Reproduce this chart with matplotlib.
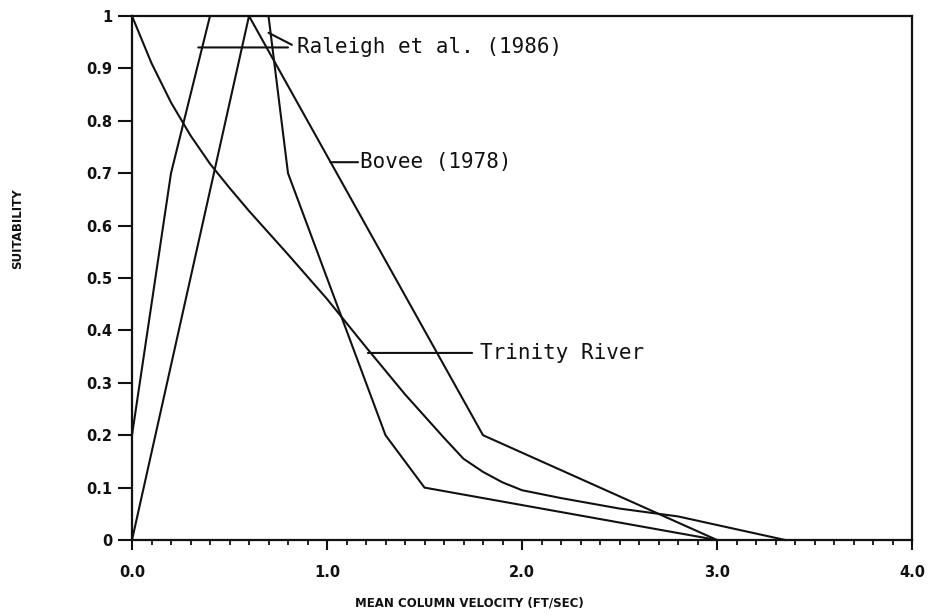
import numpy as np
import matplotlib.pyplot as plt
from matplotlib.ticker import FixedLocator, FixedFormatter, MultipleLocator

# Velocity suitability curves (mean column velocity, ft/sec)
bovee_v = [0.0, 0.6, 1.8, 3.0]
bovee_s = [0.0, 1.0, 0.2, 0.0]

raleigh_v = [0.0, 0.2, 0.4, 0.7, 0.8, 1.3, 1.5, 3.0]
raleigh_s = [0.2, 0.7, 1.0, 1.0, 0.7, 0.2, 0.1, 0.0]

trinity_v = [0.0, 0.1, 0.2, 0.3, 0.4, 0.5, 0.6, 0.8, 1.0, 1.2, 1.4, 1.6, 1.7,
             1.8, 1.9, 2.0, 2.2, 2.5, 2.8, 3.35]
trinity_s = [1.0, 0.91, 0.835, 0.772, 0.718, 0.672, 0.628, 0.545, 0.46, 0.368,
             0.278, 0.195, 0.155, 0.13, 0.11, 0.095, 0.08, 0.06, 0.045, 0.0]

x_ticks = [0.0, 1.0, 2.0, 3.0, 4.0]
x_tick_labels = ["0.0", "1.0", "2.0", "3.0", "4.0"]
y_ticks = [0.0, 0.1, 0.2, 0.3, 0.4, 0.5, 0.6, 0.7, 0.8, 0.9, 1.0]
y_tick_labels = ["0", "0.1", "0.2", "0.3", "0.4", "0.5", "0.6", "0.7", "0.8", "0.9", "1"]

ink = "#111111"
lw = 1.5

fig = plt.figure(figsize=(9.3, 6.16), dpi=100)
ax = fig.add_axes([132 / 930, 1 - 540 / 616, 780 / 930, 524 / 616])

for v, s in [(bovee_v, bovee_s), (raleigh_v, raleigh_s), (trinity_v, trinity_s)]:
    ax.plot(v, s, color=ink, lw=lw, clip_on=False, solid_joinstyle="miter")

ax.set_xlim(0, 4)
ax.set_ylim(0, 1)

for side in ["left", "right", "top", "bottom"]:
    ax.spines[side].set_linewidth(1.6)
    ax.spines[side].set_color(ink)

ax.xaxis.set_major_locator(FixedLocator(x_ticks))
ax.xaxis.set_major_formatter(FixedFormatter(x_tick_labels))
ax.xaxis.set_minor_locator(MultipleLocator(0.1))
ax.yaxis.set_major_locator(FixedLocator(y_ticks))
ax.yaxis.set_major_formatter(FixedFormatter(y_tick_labels))

ax.tick_params(axis="x", which="major", direction="out", length=7, width=1.5,
               pad=11, colors=ink, labelsize=10.5)
ax.tick_params(axis="x", which="minor", direction="out", length=3.5, width=1.3,
               colors=ink)
ax.tick_params(axis="y", which="major", direction="out", length=10, width=1.5,
               pad=4, colors=ink, labelsize=10.5)
for lab in ax.get_xticklabels() + ax.get_yticklabels():
    lab.set_fontweight("bold")

fig.text(0.505, 0.021, "MEAN COLUMN VELOCITY (FT/SEC)", ha="center", va="center",
         fontsize=8.5, fontweight="bold", color=ink)
fig.text(0.019, 0.628, "SUITABILITY", ha="center", va="center", rotation=90,
         fontsize=8.5, fontweight="bold", color=ink)

# leader lines and curve labels
leader = dict(arrowstyle="-", color=ink, lw=1.5, shrinkA=0, shrinkB=0)
mono = dict(family="DejaVu Sans Mono", fontsize=15, color=ink, va="center", ha="left")

ax.annotate("", xy=(0.34, 0.94), xytext=(0.80, 0.94), arrowprops=leader)
ax.annotate("", xy=(0.70, 0.968), xytext=(0.82, 0.945), arrowprops=leader)
ax.text(0.846, 0.94, "Raleigh et al. (1986)", **mono)

ax.annotate("", xy=(1.017, 0.721), xytext=(1.159, 0.721), arrowprops=leader)
ax.text(1.169, 0.721, "Bovee (1978)", **mono)

ax.annotate("", xy=(1.21, 0.357), xytext=(1.744, 0.357), arrowprops=leader)
ax.text(1.785, 0.357, "Trinity River", **mono)

fig.savefig("out.png", dpi=100, facecolor="white")
